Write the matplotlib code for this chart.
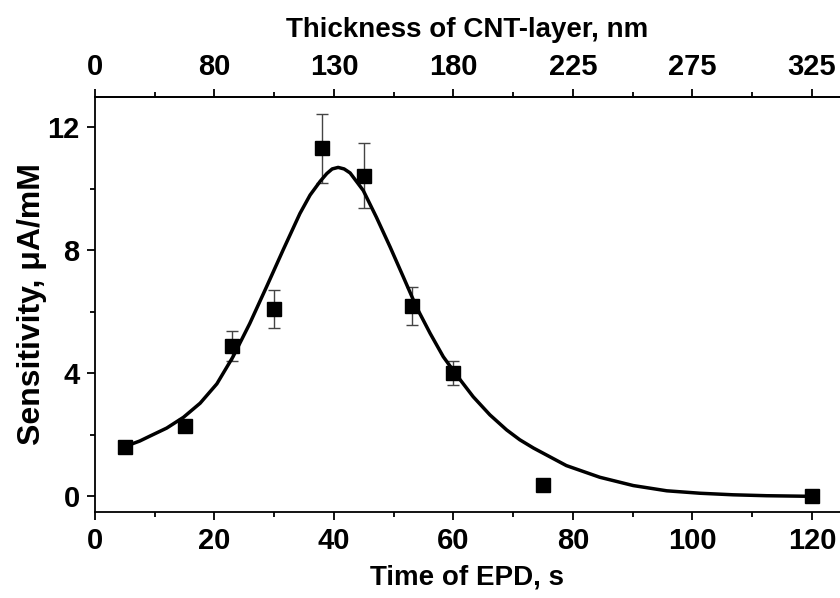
import matplotlib.pyplot as plt
from matplotlib.ticker import MultipleLocator

# measured points
time_s = [5, 15, 23, 30, 38, 45, 53, 60, 75, 120]
sens = [1.62, 2.29, 4.89, 6.09, 11.32, 10.43, 6.19, 4.02, 0.36, 0.0]
sens_err = [0, 0, 0.49, 0.61, 1.13, 1.05, 0.62, 0.39, 0, 0]

# fitted curve
fit_x = [5, 7.5, 9.2, 12.0, 14.8, 17.6, 20.4, 23.1, 25.9, 28.7, 31.5, 34.3,
         36.0, 37.7, 38.8, 39.7, 40.7, 41.7, 42.7, 44.9, 47.1, 49.4, 51.6,
         53.8, 56.1, 58.3, 60.5, 63.3, 66.1, 68.9, 71.1, 73.4, 78.9, 84.5,
         90.1, 95.7, 101.3, 106.8, 112.4, 120]
fit_y = [1.62, 1.80, 1.96, 2.22, 2.57, 3.03, 3.66, 4.54, 5.62, 6.81, 8.02, 9.20,
         9.80, 10.25, 10.50, 10.65, 10.70, 10.65, 10.52, 9.95, 9.08, 8.11, 7.14,
         6.16, 5.30, 4.54, 3.95, 3.24, 2.65, 2.16, 1.84, 1.57, 1.00, 0.62,
         0.35, 0.18, 0.10, 0.05, 0.02, 0.0]

# top axis labels (thickness, nm) at the bottom major ticks
top_pos = [0, 20, 40, 60, 80, 100, 120]
top_labels = ['0', '80', '130', '180', '225', '275', '325']

plt.rcParams['font.family'] = ['Liberation Sans', 'DejaVu Sans']
plt.rcParams['font.weight'] = 'bold'

fig = plt.figure(figsize=(8.4, 5.98), dpi=100)
ax = fig.add_axes([95 / 840, 86.3 / 598, 745 / 840, 415 / 598])

ax.plot(fit_x, fit_y, color='black', lw=2.5, zorder=2,
        solid_joinstyle='round', solid_capstyle='round')
ax.errorbar(time_s, sens, yerr=sens_err, fmt='none', ecolor='#444444',
            elinewidth=1, capsize=4, capthick=1, zorder=1)
ax.plot(time_s, sens, 's', color='black', ms=10, zorder=3)

ax.set_xlim(0, 124.7)
ax.set_ylim(-0.5, 13)
ax.xaxis.set_major_locator(MultipleLocator(20))
ax.xaxis.set_minor_locator(MultipleLocator(10))
ax.yaxis.set_major_locator(MultipleLocator(4))
ax.yaxis.set_minor_locator(MultipleLocator(2))
ax.spines['right'].set_visible(False)
for s in ['left', 'bottom', 'top']:
    ax.spines[s].set_linewidth(1.3)

ax.tick_params(which='major', direction='out', length=6, width=1.3,
               labelsize=21, pad=5)
ax.tick_params(which='minor', direction='out', length=3.5, width=1.3)
ax.set_xlabel('Time of EPD, s', fontsize=20, fontweight='bold', labelpad=7)
ax.set_ylabel('Sensitivity, \u03bcA/mM', fontsize=23, fontweight='bold', labelpad=0)

top = ax.secondary_xaxis('top')
top.set_xticks(top_pos)
top.set_xticklabels(top_labels)
top.xaxis.set_minor_locator(MultipleLocator(10))
top.tick_params(which='major', direction='out', length=6, width=1.3,
                labelsize=21, pad=5)
top.tick_params(which='minor', direction='out', length=3.5, width=1.3)
top.spines['top'].set_linewidth(1.3)
top.set_xlabel('Thickness of CNT-layer, nm', fontsize=20, fontweight='bold', labelpad=12)

fig.savefig('out.png', dpi=100)
